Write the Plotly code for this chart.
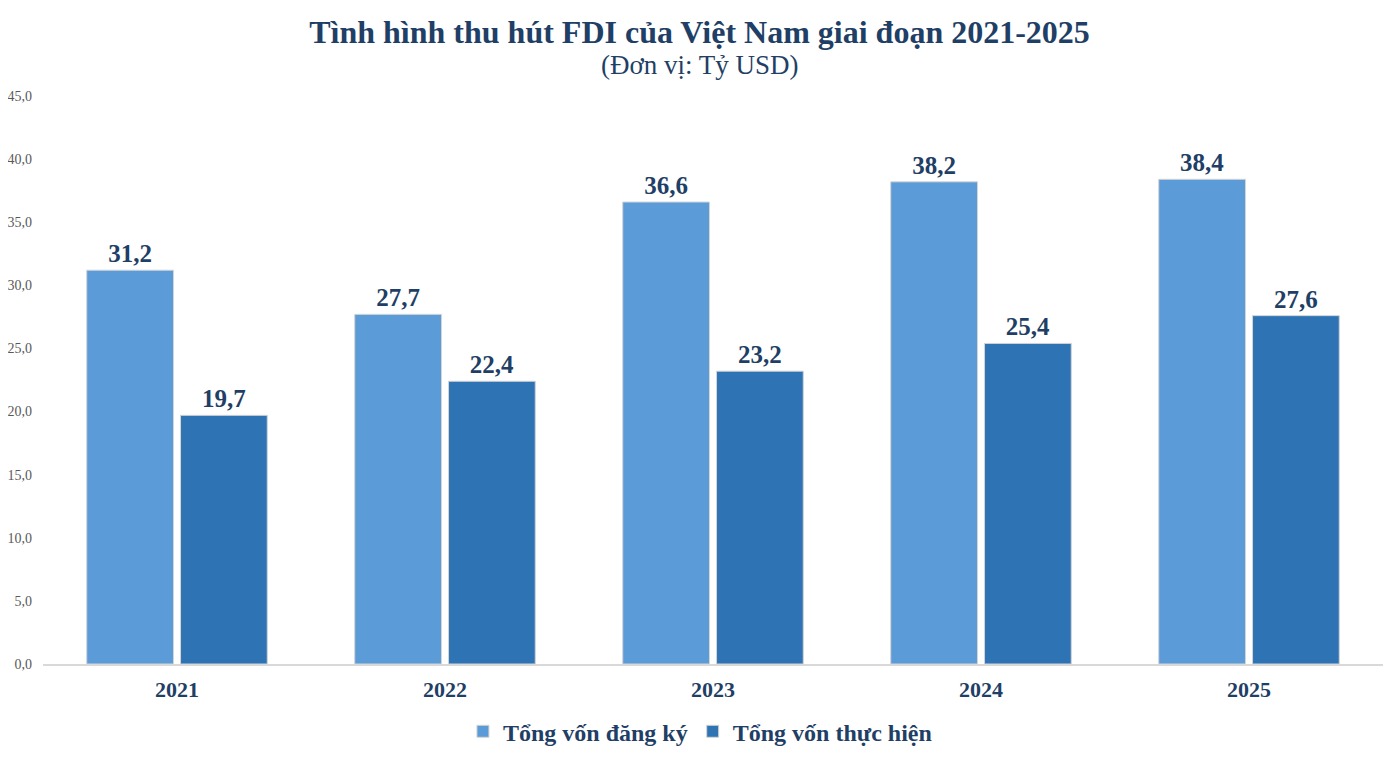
import plotly.graph_objects as go

years = ["2021", "2022", "2023", "2024", "2025"]
dang_ky = [31.2, 27.7, 36.6, 38.2, 38.4]
thuc_hien = [19.7, 22.4, 23.2, 25.4, 27.6]
y_ticks = [0, 5, 10, 15, 20, 25, 30, 35, 40, 45]

navy = "#1F3F66"
serif = "Liberation Serif"

fig = go.Figure()
fig.add_trace(go.Bar(
    x=years, y=dang_ky, name="Tổng vốn đăng ký",
    marker=dict(color="#5B9BD8", line=dict(color="#D4D4D4", width=1)),
    text=dang_ky, texttemplate="%{y:.1f}", textposition="outside",
    textfont=dict(family=serif, size=25, color=navy, weight="bold"),
    cliponaxis=False,
))
fig.add_trace(go.Bar(
    x=years, y=thuc_hien, name="Tổng vốn thực hiện",
    marker=dict(color="#2E74B5", line=dict(color="#D4D4D4", width=1)),
    text=thuc_hien, texttemplate="%{y:.1f}", textposition="outside",
    textfont=dict(family=serif, size=25, color=navy, weight="bold"),
    cliponaxis=False,
))

# page body has an 8px margin, so the margins below are shifted to compensate
fig.update_layout(
    width=1399, height=757,
    paper_bgcolor="white", plot_bgcolor="white",
    separators=",.",
    barmode="group", bargap=0.3, bargroupgap=0.075,
    margin=dict(l=35, r=24, t=88, b=101, autoexpand=False),
    title=dict(
        text="<b>Tình hình thu hút FDI của Việt Nam giai đoạn 2021-2025</b>",
        x=0.4943, xanchor="center", y=0.968, yanchor="middle",
        font=dict(family=serif, size=32, color=navy),
    ),
    annotations=[dict(
        text="(Đơn vị: Tỷ USD)", xref="paper", yref="paper",
        x=0.4903, y=1.055, xanchor="center", yanchor="middle", showarrow=False,
        font=dict(family=serif, size=27, color=navy),
    )],
    legend=dict(
        orientation="h", xref="container", x=0.4946, xanchor="center",
        yref="container", y=0.044, yanchor="middle",
        font=dict(family=serif, size=24, color=navy, weight="bold"),
        traceorder="normal", itemwidth=30,
    ),
    font=dict(family=serif),
)

fig.update_xaxes(
    showline=True, linecolor="#D9D9D9", linewidth=2,
    tickfont=dict(family=serif, size=22, color=navy, weight="bold"),
    ticks="", ticklabelstandoff=5, automargin=False,
)
fig.update_yaxes(
    range=[0, 45], tickvals=y_ticks, tickformat=".1f",
    showgrid=False, zeroline=False, showline=False,
    tickfont=dict(family=serif, size=14, color="#595959"),
    ticklabelstandoff=10, automargin=False,
)

fig.write_html("out.html")
